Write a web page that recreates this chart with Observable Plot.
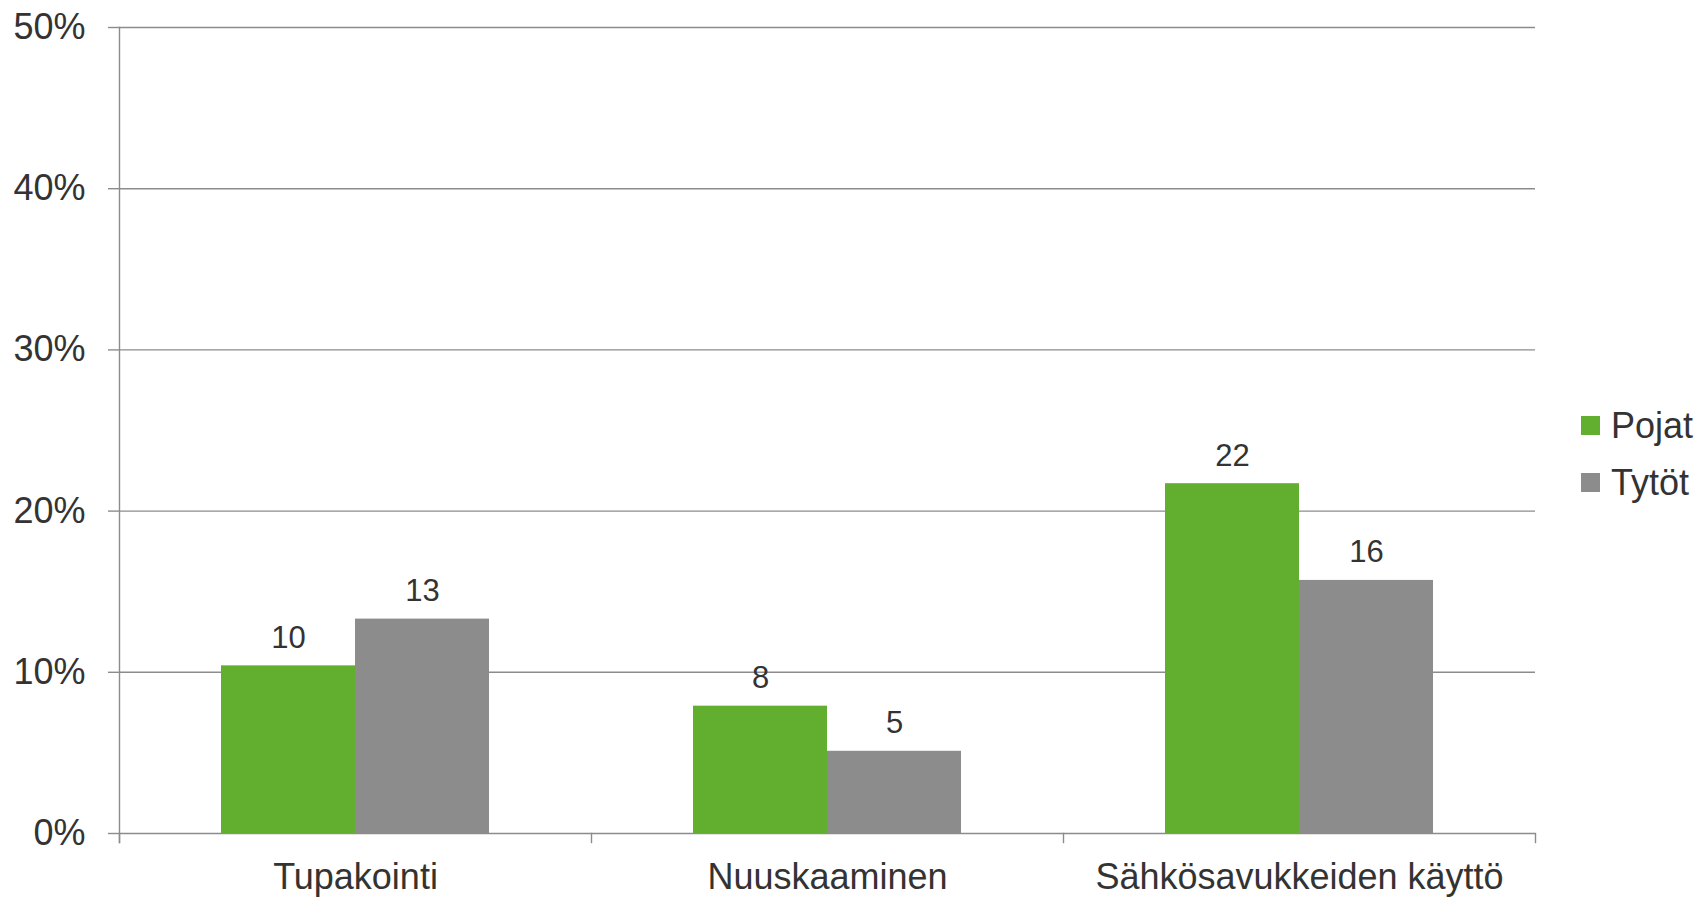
<!DOCTYPE html>
<html>
<head>
<meta charset="utf-8">
<script src="https://cdn.jsdelivr.net/npm/d3@7"></script>
<script src="https://cdn.jsdelivr.net/npm/@observablehq/plot@0.6"></script>
<style>
  html, body { margin: 0; padding: 0; background: #fff; }
  #wrap { position: relative; width: 1700px; height: 897px; font-family: "Liberation Sans", Arial, sans-serif; }
  #legend { position: absolute; left: 1581px; top: 397px; color: #333; font-size: 36px; }
  .row { display: flex; align-items: center; height: 57px; }
  .sw { width: 19px; height: 19px; margin-right: 11px; }
</style>
</head>
<body>
<div id="wrap"><div id="chart"></div><div id="legend"></div></div>
<script>
const categories = ["Tupakointi", "Nuuskaaminen", "Sähkösavukkeiden käyttö"];
const series = ["Pojat", "Tytöt"];
const pojat = [10.4, 7.9, 21.7];
const tytot = [13.3, 5.1, 15.7];
const labelsPojat = [10, 8, 22];
const labelsTytot = [13, 5, 16];
const yTicks = [0, 10, 20, 30, 40, 50];
const colors = ["#62AE2F", "#8C8C8C"];

const data = categories.flatMap((c, i) => [
  {category: c, series: series[0], value: pojat[i], label: labelsPojat[i]},
  {category: c, series: series[1], value: tytot[i], label: labelsTytot[i]}
]);

const W = 1700, H = 897, mT = 27, mB = 64, mL = 118, mR = 164;
const innerH = H - mT - mB;
const tickLen = 9;
const gridColor = "#8C8C8C";
const textColor = "#333333";

const chart = Plot.plot({
  width: W, height: H,
  marginLeft: mL, marginRight: mR, marginTop: mT, marginBottom: mB,
  style: {fontFamily: "'Liberation Sans', Arial, sans-serif", color: textColor, background: "white", overflow: "visible"},
  fx: {domain: categories, padding: 0, label: null, axis: null},
  x: {domain: series, paddingInner: 0, paddingOuter: 0.75, axis: null},
  y: {domain: [0, 50], axis: null},
  color: {domain: series, range: colors},
  marks: [
    Plot.gridY(yTicks, {stroke: gridColor, strokeOpacity: 1, strokeWidth: 1.4}),
    Plot.axisY(yTicks, {anchor: "left", tickSize: 11, tickPadding: 23, stroke: gridColor, strokeWidth: 1.4, fill: textColor, fontSize: 36, tickFormat: d => d + "%", label: null}),
    Plot.frame({anchor: "left", facetAnchor: "left", insetBottom: -tickLen, stroke: gridColor, strokeWidth: 1.4}),
    Plot.frame({anchor: "left", insetTop: innerH, insetBottom: -tickLen, stroke: gridColor, strokeWidth: 1.4}),
    Plot.frame({anchor: "right", facetAnchor: "right", insetTop: innerH, insetBottom: -tickLen, stroke: gridColor, strokeWidth: 1.4}),
    Plot.barY(data, {fx: "category", x: "series", y: "value", fill: "series"}),
    Plot.text(data, {fx: "category", x: "series", y: "value", text: "label", dy: -28, fontSize: 31, fill: textColor}),
    Plot.axisFx({anchor: "bottom", tickSize: 0, tickPadding: 30, fontSize: 36, fill: textColor, label: null})
  ]
});
document.getElementById("chart").appendChild(chart);

const legend = document.getElementById("legend");
series.forEach((s, i) => {
  const row = document.createElement("div");
  row.className = "row";
  const sw = document.createElement("div");
  sw.className = "sw";
  sw.style.background = colors[i];
  const t = document.createElement("span");
  t.textContent = s;
  row.appendChild(sw);
  row.appendChild(t);
  legend.appendChild(row);
});
</script>
</body>
</html>
